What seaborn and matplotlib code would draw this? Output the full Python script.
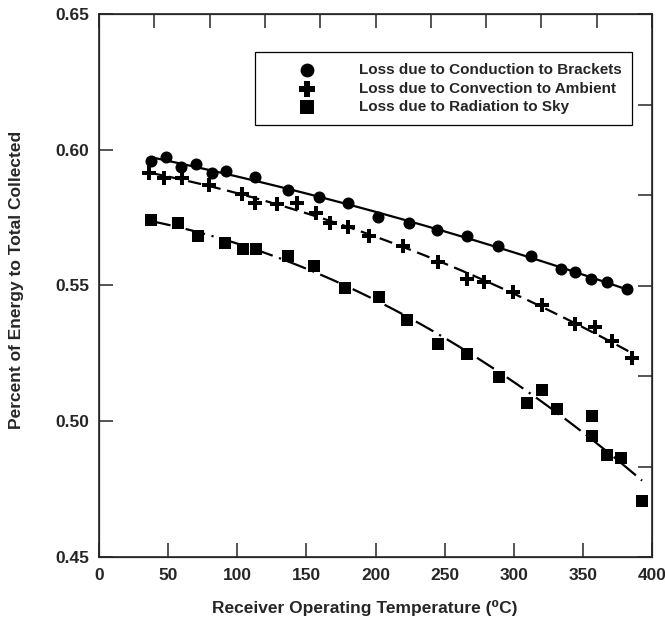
import numpy as np
import pandas as pd
import matplotlib
matplotlib.use("Agg")
import matplotlib.pyplot as plt
import seaborn as sns

# Dados (temperatura em graus C, fração da energia coletada)
temp_conducao = [37.6, 48.5, 59.3, 70.1, 81.7, 91.9, 112.8, 136.7, 159.1, 180.1, 201.8,
                 224.2, 244.5, 266.2, 288.6, 312.5, 334.2, 344.3, 355.9, 367.5, 381.9]
perda_conducao = [0.5958, 0.5973, 0.5936, 0.5948, 0.5915, 0.5922, 0.5900, 0.5852, 0.5826, 0.5804, 0.5752,
                  0.5730, 0.5704, 0.5682, 0.5645, 0.5609, 0.5561, 0.5550, 0.5524, 0.5513, 0.5487]

temp_conveccao = [36.2, 47.0, 60.0, 79.6, 103.4, 112.8, 128.7, 143.2, 156.9, 167.1, 180.1,
                  195.3, 219.9, 245.2, 266.2, 278.5, 299.4, 320.4, 344.3, 358.8, 371.1, 385.5]
perda_conveccao = [0.5914, 0.5896, 0.5896, 0.5870, 0.5837, 0.5804, 0.5800, 0.5804, 0.5767, 0.5730, 0.5716,
                   0.5683, 0.5645, 0.5586, 0.5524, 0.5513, 0.5476, 0.5428, 0.5358, 0.5347, 0.5296, 0.5233]

temp_radiacao = [37.6, 57.1, 71.6, 91.1, 104.2, 113.6, 136.7, 155.5, 177.9, 202.5, 222.8,
                 245.2, 266.2, 289.3, 309.6, 320.4, 331.3, 356.6, 356.6, 367.4, 377.6, 392.8]
perda_radiacao = [0.5741, 0.5730, 0.5682, 0.5656, 0.5634, 0.5634, 0.5609, 0.5572, 0.5491, 0.5458, 0.5373,
                  0.5284, 0.5248, 0.5163, 0.5067, 0.5115, 0.5045, 0.5019, 0.4946, 0.4876, 0.4865, 0.4706]

rotulos = ['Loss due to Conduction to Brackets',
           'Loss due to Convection to Ambient',
           'Loss due to Radiation to Sky']

series = [
    (temp_conducao, perda_conducao, 'o', 75, '-'),
    (temp_conveccao, perda_conveccao, 'P', 100, (0, (6, 3))),
    (temp_radiacao, perda_radiacao, 's', 75, (0, (9, 3, 1, 3))),
]

sns.set_style("ticks")
plt.rcParams['font.family'] = ['Liberation Sans', 'DejaVu Sans']
plt.rcParams['font.weight'] = 'bold'

fig = plt.figure(figsize=(6.65, 6.2), dpi=100)
ax = fig.add_axes([99 / 665, 63 / 620, 553 / 665, 543 / 620])

for (x, y, marcador, tam, estilo), rotulo in zip(series, rotulos):
    df = pd.DataFrame({'T': x, 'P': y})
    sns.regplot(data=df, x='T', y='P', order=2, ci=None, scatter=False, ax=ax,
                line_kws={'color': 'black', 'lw': 1.6, 'ls': estilo})
    sns.scatterplot(data=df, x='T', y='P', marker=marcador, s=tam, color='black',
                    linewidth=0, label=rotulo, ax=ax, zorder=3)

ax.set_xlim(0, 400)
ax.set_ylim(0.45, 0.65)
ax.set_xticks(np.arange(0, 401, 50))
ax.set_yticks([0.45, 0.50, 0.55, 0.60, 0.65])
ax.set_yticklabels(['0.45', '0.50', '0.55', '0.60', '0.65'])
ax.tick_params(direction='in', length=10, width=1.1, labelsize=12.5, pad=7)
ax.tick_params(axis='x', pad=8)
for s in ax.spines.values():
    s.set_linewidth(1.2)
    s.set_visible(True)

ax.set_xlabel('Receiver Operating Temperature (\u2070C)', fontsize=12.5, fontweight='bold')
ax.set_ylabel('Percent of Energy to Total Collected', fontsize=12.5, fontweight='bold')
ax.xaxis.set_label_coords(0.48, -0.08)
ax.yaxis.set_label_coords(-0.135, 0.51)

# eixos secundários só com marcas (topo e direita)
ax_top = ax.twiny()
ax_top.set_xlim(0, 10)
ax_top.set_xticks(range(11))
ax_top.tick_params(axis='x', direction='in', length=10, width=1.1, labeltop=False)
ax_dir = ax.twinx()
ax_dir.set_ylim(0, 6)
ax_dir.set_yticks(range(7))
ax_dir.tick_params(axis='y', direction='in', length=10, width=1.1, labelright=False)

leg = ax.legend(loc='upper right', bbox_to_anchor=(0.964, 0.930), borderaxespad=0,
                fontsize=11, frameon=True, fancybox=False, framealpha=1, edgecolor='black',
                handlelength=5.4, handletextpad=0.7, borderpad=0.7, labelspacing=0.32,
                scatterpoints=1, markerscale=1.15)
leg.get_frame().set_linewidth(0.9)
leg.remove()
ax_dir.add_artist(leg)

fig.savefig('out.png', dpi=100)
